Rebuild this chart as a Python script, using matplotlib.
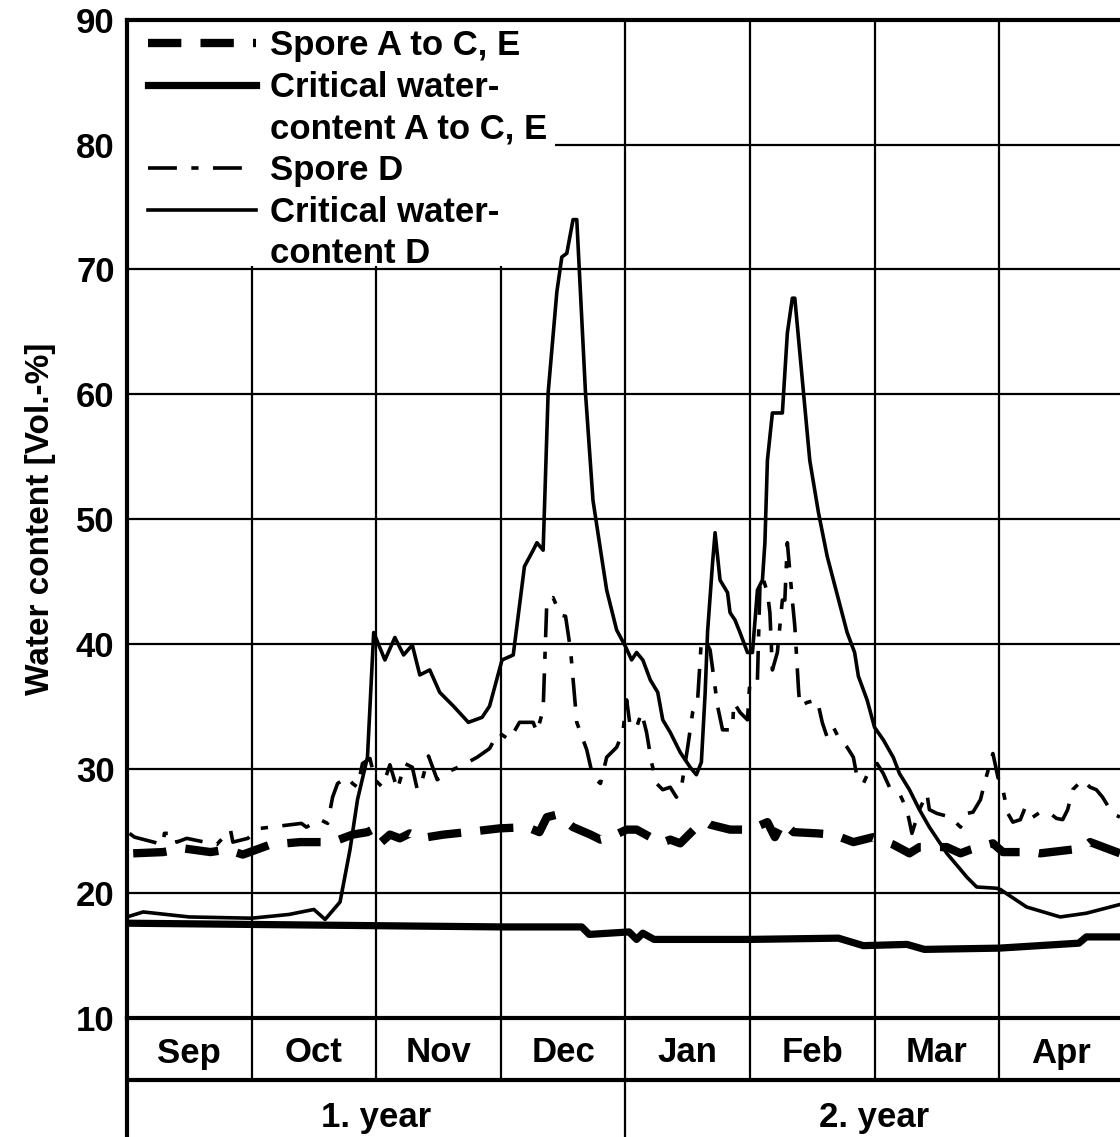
import matplotlib
matplotlib.use("Agg")
import matplotlib.pyplot as plt
from matplotlib.lines import Line2D
from matplotlib.patches import Rectangle

plt.rcParams['font.family'] = ['Liberation Sans', 'DejaVu Sans']
plt.rcParams['font.weight'] = 'bold'
plt.rcParams['font.size'] = 25

# x = months since start of September
month_labels = ["Sep", "Oct", "Nov", "Dec", "Jan", "Feb", "Mar", "Apr"]
year_labels = ["1. year", "2. year"]
y_ticks = [10, 20, 30, 40, 50, 60, 70, 80, 90]

spore_ace_x = [0.05, 0.29, 0.45, 0.67, 0.80, 0.93, 1.15, 1.39, 1.65, 1.81, 1.93, 1.97, 2.03, 2.11,
               2.19, 2.27, 2.35, 2.54, 2.73, 2.99, 3.21, 3.31, 3.37, 3.45, 3.58, 3.72, 3.80, 3.88,
               4.01, 4.09, 4.20, 4.28, 4.36, 4.44, 4.57, 4.65, 4.68, 4.84, 5.00, 5.14, 5.20, 5.26,
               5.35, 5.54, 5.67, 5.83, 5.99, 6.15, 6.28, 6.36, 6.58, 6.69, 6.77, 6.95, 7.03, 7.27,
               7.33, 7.67, 7.73, 7.97]
spore_ace_y = [23.2, 23.3, 23.6, 23.3, 23.5, 23.1, 23.9, 24.1, 24.1, 24.7, 24.9, 25.1, 24.0, 24.7,
               24.4, 24.8, 24.4, 24.7, 24.9, 25.2, 25.3, 24.9, 26.1, 26.3, 25.3, 24.7, 24.3, 24.5,
               25.1, 25.1, 24.5, 24.0, 24.3, 24.0, 25.3, 25.7, 25.5, 25.1, 25.1, 25.7, 24.5, 25.7,
               24.9, 24.8, 24.7, 24.1, 24.5, 23.9, 23.2, 23.7, 23.7, 23.2, 23.5, 24.0, 23.3, 23.3,
               23.2, 23.6, 24.1, 23.2]

crit_ace_x = [0.00, 1.00, 2.00, 3.01, 3.65, 3.71, 4.03, 4.09, 4.14, 4.23, 5.00, 5.71, 5.91, 6.26,
              6.40, 7.00, 7.64, 7.70, 7.97]
crit_ace_y = [17.6, 17.5, 17.4, 17.3, 17.3, 16.7, 16.9, 16.3, 16.8, 16.3, 16.3, 16.4, 15.8, 15.9,
              15.5, 15.6, 16.0, 16.5, 16.5]

spore_d_x = [0.02, 0.06, 0.29, 0.30, 0.39, 0.40, 0.48, 0.72, 0.83, 0.85, 0.97, 1.01, 1.07, 1.40,
             1.44, 1.55, 1.61, 1.65, 1.69, 1.77, 1.81, 1.85, 1.89, 1.95, 1.99, 2.05, 2.11, 2.17,
             2.23, 2.29, 2.33, 2.37, 2.42, 2.49, 2.57, 2.70, 2.81, 2.91, 2.98, 3.07, 3.15, 3.26,
             3.29, 3.34, 3.37, 3.42, 3.48, 3.52, 3.56, 3.61, 3.69, 3.74, 3.80, 3.85, 3.93, 3.98,
             4.01, 4.04, 4.09, 4.13, 4.17, 4.21, 4.25, 4.30, 4.36, 4.41, 4.45, 4.50, 4.54, 4.58,
             4.61, 4.65, 4.68, 4.74, 4.78, 4.86, 4.87, 4.92, 4.98, 5.00, 5.06, 5.08, 5.10, 5.14,
             5.16, 5.18, 5.22, 5.26, 5.28, 5.30, 5.34, 5.36, 5.39, 5.40, 5.46, 5.54, 5.58, 5.62,
             5.67, 5.72, 5.78, 5.83, 5.86, 5.91, 5.96, 6.02, 6.07, 6.12, 6.20, 6.26, 6.30, 6.36,
             6.42, 6.44, 6.50, 6.61, 6.69, 6.74, 6.79, 6.85, 6.89, 6.95, 6.99, 7.03, 7.07, 7.11,
             7.17, 7.21, 7.27, 7.33, 7.41, 7.46, 7.51, 7.55, 7.59, 7.67, 7.73, 7.78, 7.83, 7.91,
             7.97]
spore_d_y = [24.8, 24.5, 23.9, 24.8, 24.8, 24.1, 24.4, 23.9, 25.1, 24.1, 24.4, 24.8, 25.2, 25.6,
             25.3, 25.9, 25.6, 27.7, 28.8, 29.3, 28.8, 28.5, 30.4, 30.8, 29.1, 28.5, 30.3, 28.3,
             30.4, 30.1, 28.3, 29.1, 31.0, 29.1, 29.7, 30.3, 30.9, 31.6, 32.9, 32.3, 33.7, 33.7,
             32.9, 34.7, 43.5, 43.7, 42.3, 42.2, 39.5, 33.7, 31.5, 29.3, 28.8, 30.9, 31.7, 32.9,
             35.5, 33.3, 33.3, 34.5, 32.9, 30.5, 28.8, 28.3, 28.5, 27.7, 28.5, 31.7, 34.5, 35.5,
             40.3, 40.1, 39.5, 35.0, 33.1, 33.1, 35.3, 34.5, 33.9, 37.1, 37.1, 44.6, 45.4, 44.1,
             42.5, 37.9, 39.3, 43.5, 43.5, 48.1, 43.5, 41.4, 36.3, 35.0, 35.3, 35.5, 33.7, 32.5,
             33.3, 32.3, 31.7, 30.9, 29.3, 28.8, 29.9, 30.4, 29.6, 28.5, 28.0, 26.7, 24.8, 26.7,
             28.0, 26.7, 26.4, 26.1, 25.3, 26.4, 26.5, 27.5, 29.1, 31.2, 29.3, 28.3, 26.4, 25.7,
             25.9, 26.9, 26.1, 26.5, 26.4, 26.0, 25.9, 26.7, 28.3, 29.1, 28.5, 28.3, 27.7, 26.4,
             26.1]

crit_d_x = [0.00, 0.13, 0.50, 1.00, 1.30, 1.50, 1.59, 1.71, 1.79, 1.85, 1.93, 1.98, 2.07, 2.15,
            2.22, 2.29, 2.35, 2.43, 2.51, 2.62, 2.74, 2.85, 2.91, 3.01, 3.10, 3.19, 3.26, 3.29,
            3.34, 3.38, 3.45, 3.49, 3.53, 3.58, 3.61, 3.68, 3.74, 3.81, 3.85, 3.93, 4.00, 4.05,
            4.09, 4.14, 4.20, 4.26, 4.30, 4.36, 4.44, 4.52, 4.57, 4.61, 4.64, 4.66, 4.70, 4.72,
            4.76, 4.82, 4.84, 4.88, 4.92, 4.98, 5.02, 5.06, 5.10, 5.12, 5.14, 5.18, 5.26, 5.30,
            5.34, 5.36, 5.43, 5.48, 5.55, 5.62, 5.78, 5.84, 5.87, 5.94, 6.00, 6.07, 6.15, 6.20,
            6.28, 6.36, 6.44, 6.58, 6.69, 6.74, 6.82, 6.98, 7.01, 7.22, 7.49, 7.70, 7.97]
crit_d_y = [18.1, 18.5, 18.1, 18.0, 18.3, 18.7, 17.9, 19.3, 23.5, 27.5, 30.9, 40.9, 38.7, 40.5,
            39.1, 39.9, 37.5, 37.9, 36.1, 35.0, 33.7, 34.1, 35.0, 38.7, 39.1, 46.2, 47.5, 48.1,
            47.5, 60.1, 68.2, 71.0, 71.3, 74.0, 74.0, 60.1, 51.5, 46.9, 44.3, 41.1, 39.8, 38.7,
            39.3, 38.7, 37.1, 36.1, 33.9, 32.9, 31.3, 30.1, 29.5, 30.5, 36.0, 41.0, 46.5, 48.9,
            45.1, 44.1, 42.5, 41.9, 40.9, 39.3, 39.3, 44.3, 45.1, 48.1, 54.7, 58.5, 58.5, 64.9,
            67.7, 67.7, 60.1, 54.7, 50.5, 47.0, 40.9, 39.3, 37.4, 35.5, 33.3, 32.3, 30.9, 29.6,
            28.3, 26.7, 25.3, 23.2, 21.9, 21.3, 20.5, 20.4, 20.3, 18.9, 18.1, 18.4, 19.1]

W, H = 1120, 1137
fig = plt.figure(figsize=(W / 100, H / 100), dpi=100)
ax = fig.add_axes([127 / W, 119 / H, 993 / W, 998 / H])
x_max = 7.97
ax.set_xlim(0, x_max)
ax.set_ylim(10, 90)

l1, = ax.plot(spore_ace_x, spore_ace_y, color='black', lw=6, dashes=(4, 2.3), zorder=4)
l2, = ax.plot(crit_ace_x, crit_ace_y, color='black', lw=5.2, zorder=4)
l3, = ax.plot(spore_d_x, spore_d_y, color='black', lw=2.6, dashes=(8, 4, 2, 4), zorder=4)
l4, = ax.plot(crit_d_x, crit_d_y, color='black', lw=2.6, zorder=4)

ax.set_yticks(y_ticks)
ax.set_xticks(range(1, len(month_labels)))
ax.tick_params(axis='y', length=0, pad=9, labelsize=25)
ax.tick_params(axis='x', length=0, labelbottom=False)
ax.grid(True, color='black', lw=1.6)
for s in ['left', 'top', 'bottom']:
    ax.spines[s].set_linewidth(3)
    ax.spines[s].set_zorder(6)
ax.spines['right'].set_visible(False)

ax.set_ylabel('Water content [Vol.-%]', fontsize=24, fontweight='bold')
ax.yaxis.set_label_coords(-0.072, 0.5)

# white area behind the legend
ax.add_patch(Rectangle((0, (1018 - 266) / 998), (555 - 127) / 993, 1, transform=ax.transAxes,
                       facecolor='white', edgecolor='none', zorder=3))
blank = Line2D([], [], linestyle='none')
ax.legend([l1, l2, blank, l3, l4, blank],
          ["Spore A to C, E", "Critical water-", "content A to C, E",
           "Spore D", "Critical water-", "content D"],
          loc='upper left', bbox_to_anchor=((148 - 127) / 993, (1018 - 29) / 998),
          frameon=False, borderpad=0, borderaxespad=0, handlelength=3.1,
          handletextpad=0.4, labelspacing=0.25, fontsize=25).set_zorder(5)

# month / year table under the plot
ax2 = fig.add_axes([127 / W, 0, 993 / W, 119 / H])
ax2.set_xlim(0, x_max)
ax2.set_ylim(0, 119)
ax2.axis('off')
ax2.axvline(0, color='black', lw=3, clip_on=False)
ax2.axhline(57, color='black', lw=3)
ax2.vlines(range(1, len(month_labels)), 57, 119, color='black', lw=1.6)
ax2.vlines(4, 0, 57, color='black', lw=1.6)
for i, m in enumerate(month_labels):
    ax2.text(i + 0.5, 84, m, ha='center', va='center', fontsize=25, fontweight='bold')
for i, yl in enumerate(year_labels):
    ax2.text(2 + 4 * i, 19, yl, ha='center', va='center', fontsize=25, fontweight='bold')

fig.savefig('out.png', dpi=100)
